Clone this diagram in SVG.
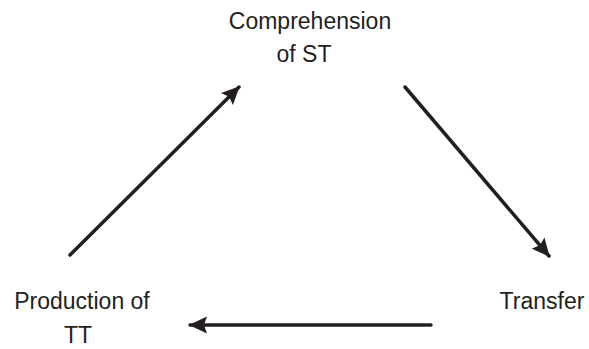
<svg xmlns="http://www.w3.org/2000/svg" width="589" height="349" viewBox="0 0 589 349">
  <style>
    .label { font-family: "Liberation Sans", Arial, sans-serif; font-size: 23px; fill: #231f20; text-anchor: middle; }
    .edge { stroke: #231f20; stroke-width: 3.5; fill: none; stroke-linecap: round; }
  </style>
  <defs>
    <marker id="arrow" viewBox="0 0 18 18" refX="17" refY="9" markerWidth="18" markerHeight="18" markerUnits="userSpaceOnUse" orient="auto">
      <path d="M0,0.5 L18,9 L0,17.5 L3,9 Z" fill="#231f20"/>
    </marker>
  </defs>
  <rect width="589" height="349" fill="#ffffff"/>

  <g id="node-comprehension">
    <text class="label" x="310" y="29">Comprehension</text>
    <text class="label" x="304" y="62">of ST</text>
  </g>
  <g id="node-transfer">
    <text class="label" x="542" y="309">Transfer</text>
  </g>
  <g id="node-production">
    <text class="label" x="82" y="309">Production of</text>
    <text class="label" x="78" y="343">TT</text>
  </g>

  <g id="connectors">
    <line class="edge" x1="70" y1="255" x2="239" y2="87" marker-end="url(#arrow)"/>
    <line class="edge" x1="405" y1="87" x2="549" y2="256" marker-end="url(#arrow)"/>
    <line class="edge" x1="431" y1="325" x2="190" y2="325" marker-end="url(#arrow)"/>
  </g>
</svg>
